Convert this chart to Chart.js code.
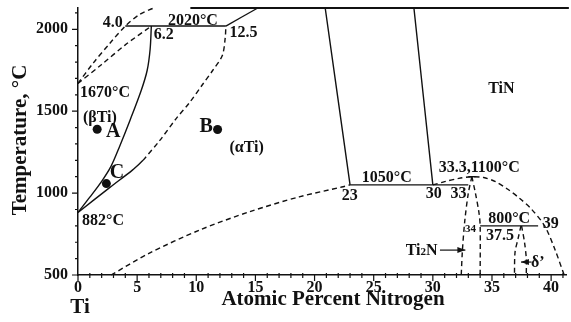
<!DOCTYPE html>
<html>
<head>
<meta charset="utf-8">
<script src="https://cdn.jsdelivr.net/npm/chart.js@4"></script>
<style>
  html, body { margin: 0; padding: 0; background: #fff; }
  canvas { display: block; }
</style>
</head>
<body>
<canvas id="phaseChart" width="571" height="322"></canvas>
<script>
// tick labels
const xTicks = [0, 5, 10, 15, 20, 25, 30, 35, 40];
const yTicks = [500, 1000, 1500, 2000];

// phase boundaries, [at.% N, temperature °C]
const betaTransus = [[0, 882], [1, 975], [2, 1072], [2.8, 1165], [3.5, 1282], [4.4, 1445], [5.35, 1628], [5.85, 1750], [6.1, 1880], [6.2, 2020]];
const alphaBoundary = [[0, 882], [2.7, 1035], [4.6, 1140], [5.5, 1200]];
const alphaBoundaryDashed = [[5.5, 1200], [6.9, 1320], [8.3, 1455], [9.4, 1550], [10.5, 1660], [11.4, 1750], [12.2, 1840], [12.45, 1950], [12.5, 2020]];
const betaLiquidus = [[0, 1670], [1.3, 1795], [2.7, 1915], [4.0, 2020], [5.2, 2090], [6.4, 2130]];
const betaSolidus = [[0, 1670], [2, 1785], [4, 1905], [6.2, 2020]];
const peritectic2020 = [[4.0, 2020], [12.5, 2020]];
const alphaLiquidus = [[12.5, 2020], [15.2, 2130]];
const tinLeft = [[20.9, 2130], [23, 1050]];
const tinRight = [[28.4, 2130], [30, 1050]];
const line1050 = [[23, 1050], [33, 1050]];
const alphaSolvus = [[2.8, 500], [6, 632], [10.3, 775], [14.5, 886], [18.7, 977], [22.3, 1037], [23, 1050]];
const tinSolvus = [[30, 1050], [31, 1070], [32.2, 1090], [33.3, 1100], [34.3, 1095], [35.3, 1070], [36.3, 1025], [37.3, 970], [38.3, 905], [39.45, 800], [40.3, 660], [41.1, 500]];
const ti2nLeft = [[33.3, 1100], [33.0, 1000], [32.7, 830], [32.5, 650], [32.4, 500]];
const ti2nRight = [[33.3, 1100], [33.6, 1000], [33.9, 880], [34, 800], [34, 500]];
const ti2nTop = [[33.0, 1100], [33.6, 1100]];
const line800 = [[34, 800], [38.9, 800]];
const deltaLeft = [[37.45, 800], [37.2, 720], [36.95, 640], [36.9, 500]];
const deltaRight = [[37.5, 800], [37.75, 700], [37.9, 600], [37.9, 500]];
const topEdge = [[9.5, 2130], [41.5, 2130]];
const samplePoints = [[1.62, 1390], [11.8, 1388], [2.4, 1058]];

// text on the diagram: [text, x, y, size]
const notes = [
  ['4.0', 2.1, 2014, 16], ['2020°C', 7.6, 2024, 16], ['6.2', 6.4, 1939, 16], ['12.5', 12.8, 1953, 16],
  ['1670°C', 0.17, 1587, 16], ['(βTi)', 0.42, 1433, 16], ['A', 2.36, 1343, 20], ['B', 10.27, 1374, 20],
  ['C', 2.69, 1092, 20], ['(αTi)', 12.8, 1250, 16], ['882°C', 0.34, 805, 16], ['1050°C', 24.0, 1069, 16],
  ['23', 22.3, 957, 16], ['30', 29.4, 970, 16], ['33', 31.5, 970, 16], ['33.3,1100°C', 30.5, 1130, 16],
  ['800°C', 34.68, 817, 16], ['39', 39.3, 787, 16], ['34', 32.72, 764, 11], ['37.5', 34.5, 713, 16],
  ['TiN', 34.68, 1610, 16], ['δ’', 38.3, 551, 16]
];
const arrows = [[30.6, 32.75, 652], [38.35, 37.45, 579]];

const FONT = '"Liberation Serif", "Times New Roman", serif';
const solid = (data) => ({ data: data.map(([x, y]) => ({ x, y })), showLine: true, borderColor: '#111', borderWidth: 1.4, pointRadius: 0, tension: 0.3, clip: false });
const dashed = (data) => Object.assign(solid(data), { borderDash: [5, 3.5] });
const noPadding = (s) => { s.paddingTop = 0; s.paddingBottom = 0; s.paddingLeft = 0; s.paddingRight = 0; };

const diagramText = {
  id: 'diagramText',
  afterDatasetsDraw(chart) {
    const { ctx, scales: { x, y } } = chart;
    ctx.save();
    ctx.fillStyle = '#111';
    ctx.strokeStyle = '#111';
    // minor and major ticks
    ctx.lineWidth = 1.2;
    ctx.beginPath();
    for (let v = 0; v <= 41; v++) {
      const px = x.getPixelForValue(v);
      const major = v % 5 === 0;
      ctx.moveTo(px, major ? y.bottom : y.bottom - 2);
      ctx.lineTo(px, major ? y.bottom + 6 : y.bottom + 3);
    }
    for (let v = 500; v <= 2100; v += 100) {
      const py = y.getPixelForValue(v);
      ctx.moveTo(x.left - (v % 500 === 0 ? 6 : 3), py);
      ctx.lineTo(x.left, py);
    }
    ctx.stroke();
    // labels
    ctx.textAlign = 'left';
    ctx.textBaseline = 'alphabetic';
    notes.forEach(([t, vx, vy, size]) => {
      ctx.font = `bold ${size}px ${FONT}`;
      ctx.fillText(t, x.getPixelForValue(vx), y.getPixelForValue(vy));
    });
    // Ti2N with subscript
    let px = x.getPixelForValue(27.7), py = y.getPixelForValue(622);
    ctx.font = `bold 16px ${FONT}`;
    ctx.fillText('Ti', px, py);
    px += ctx.measureText('Ti').width;
    ctx.font = `bold 11px ${FONT}`;
    ctx.fillText('2', px, py);
    px += ctx.measureText('2').width;
    ctx.font = `bold 16px ${FONT}`;
    ctx.fillText('N', px, py);
    // arrows
    arrows.forEach(([x0, x1, vy]) => {
      const a = x.getPixelForValue(x0), b = x.getPixelForValue(x1), yy = y.getPixelForValue(vy);
      const dir = Math.sign(b - a);
      ctx.lineWidth = 1.2;
      ctx.beginPath();
      ctx.moveTo(a, yy);
      ctx.lineTo(b, yy);
      ctx.stroke();
      ctx.beginPath();
      ctx.moveTo(b, yy);
      ctx.lineTo(b - dir * 8, yy - 3);
      ctx.lineTo(b - dir * 8, yy + 3);
      ctx.closePath();
      ctx.fill();
    });
    // axis titles
    ctx.font = `bold 21px ${FONT}`;
    ctx.textAlign = 'center';
    ctx.fillText('Atomic Percent Nitrogen', 333, 305);
    ctx.fillText('Ti', 80, 313);
    ctx.translate(26, 140);
    ctx.rotate(-Math.PI / 2);
    ctx.fillText('Temperature, °C', 0, 0);
    ctx.restore();
  }
};

new Chart(document.getElementById('phaseChart'), {
  type: 'scatter',
  data: {
    datasets: [
      solid(betaTransus), solid(alphaBoundary), dashed(alphaBoundaryDashed),
      dashed(betaLiquidus), dashed(betaSolidus), solid(peritectic2020), solid(alphaLiquidus),
      solid(tinLeft), solid(tinRight), solid(line1050), dashed(alphaSolvus), dashed(tinSolvus),
      dashed(ti2nLeft), dashed(ti2nRight), solid(ti2nTop), solid(line800),
      dashed(deltaLeft), dashed(deltaRight),
      Object.assign(solid(topEdge), { borderWidth: 2 }),
      { data: samplePoints.map(([x, y]) => ({ x, y })), pointRadius: 4.5, backgroundColor: '#111', borderWidth: 0 }
    ]
  },
  options: {
    responsive: false,
    animation: false,
    layout: { padding: { top: 8, right: 3, left: 0, bottom: 0 } },
    plugins: { legend: { display: false }, tooltip: { enabled: false } },
    scales: {
      x: {
        type: 'linear', min: 0, max: 41.3,
        afterBuildTicks: (s) => { s.ticks = xTicks.map((v) => ({ value: v })); },
        afterFit: (s) => { s.height = 47; noPadding(s); },
        ticks: { color: '#111', padding: 3, maxRotation: 0, autoSkip: false, callback: (v) => String(v), font: { family: FONT, size: 16, weight: 'bold' } },
        grid: { drawOnChartArea: false, drawTicks: false },
        border: { color: '#111', width: 1.5 }
      },
      y: {
        type: 'linear', min: 500, max: 2130,
        afterBuildTicks: (s) => { s.ticks = yTicks.map((v) => ({ value: v })); },
        afterFit: (s) => { s.width = 78; noPadding(s); },
        ticks: { color: '#111', padding: 10, callback: (v) => String(v), font: { family: FONT, size: 16, weight: 'bold' } },
        grid: { drawOnChartArea: false, drawTicks: false },
        border: { color: '#111', width: 1.5 }
      }
    }
  },
  plugins: [diagramText]
});
</script>
</body>
</html>
